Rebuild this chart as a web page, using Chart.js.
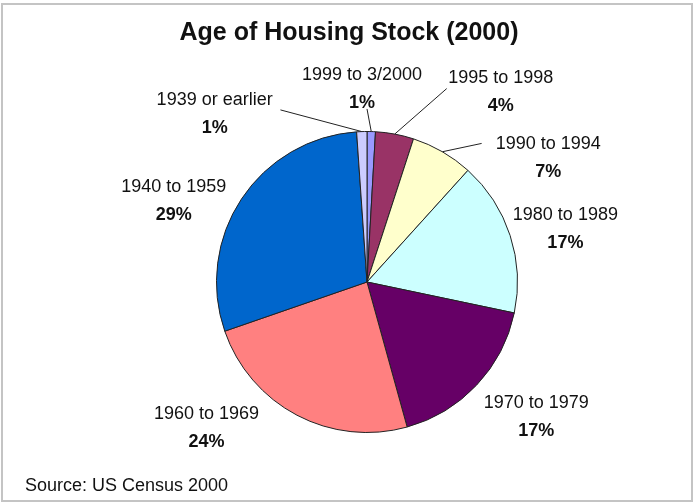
<!DOCTYPE html>
<html>
<head>
<meta charset="utf-8">
<script src="https://cdn.jsdelivr.net/npm/chart.js@4.4.1/dist/chart.umd.min.js"></script>
<style>
  html, body { margin: 0; padding: 0; background: #fff; }
  #wrap { width: 694px; height: 504px; }
</style>
</head>
<body>
<div id="wrap"><canvas id="housing-chart" width="694" height="504"></canvas></div>
<script>
// --- Data ---
const chartTitle = 'Age of Housing Stock (2000)';
const sourceNote = 'Source: US Census 2000';
const categories = ['1999 to 3/2000', '1995 to 1998', '1990 to 1994', '1980 to 1989',
                    '1970 to 1979', '1960 to 1969', '1940 to 1959', '1939 or earlier'];
const shares = [0.9, 4.1, 6.7, 16.6, 17.4, 24.0, 29.2, 1.1];
const sliceColors = ['#9999ff', '#993366', '#ffffcc', '#ccffff',
                     '#660066', '#ff8080', '#0066cc', '#ccccff'];

// label placement: [degrees clockwise from 12 o'clock, distance as multiple of radius]
const labelPlacement = [
    [-1.5, 1.285], [35.1, 1.545], [55.6, 1.46], [75.1, 1.364],
    [128.5, 1.437], [227.7, 1.442], [292.7, 1.392], [317.8, 1.507]
];
// leader line end points for the small slices (same polar form), null = no line
const leaderEnds = [
    [0, 1.15], [22.4, 1.39], [39.6, 1.195], null, null, null, null, [333.3, 1.28]
];

function polar(cx, cy, deg, dist) {
    const a = (deg - 90) * Math.PI / 180;
    return { x: cx + Math.cos(a) * dist, y: cy + Math.sin(a) * dist };
}

const pieDecor = {
    id: 'pieDecor',
    afterDraw(chart) {
        const ctx = chart.ctx;
        const meta = chart.getDatasetMeta(0);
        const values = chart.data.datasets[0].data;
        const total = values.reduce((s, v) => s + v, 0);

        ctx.save();
        // outer frame
        ctx.strokeStyle = '#c4c4c4';
        ctx.lineWidth = 2;
        ctx.strokeRect(2, 4, 690, 497);

        // title
        ctx.fillStyle = '#111';
        ctx.font = 'bold 25px "Liberation Sans", Arial, sans-serif';
        ctx.textAlign = 'center';
        ctx.textBaseline = 'alphabetic';
        ctx.fillText(chartTitle, 349, 40);

        // source
        ctx.font = '18px "Liberation Sans", Arial, sans-serif';
        ctx.textAlign = 'left';
        ctx.fillText(sourceNote, 25, 491);

        meta.data.forEach((arc, i) => {
            const cx = arc.x, cy = arc.y, r = arc.outerRadius;

            // leader lines
            const end = leaderEnds[i];
            if (end) {
                const mid = (arc.startAngle + arc.endAngle) / 2;
                const sx = cx + Math.cos(mid) * r;
                const sy = cy + Math.sin(mid) * r;
                const e = polar(cx, cy, end[0], end[1] * r);
                ctx.strokeStyle = '#222';
                ctx.lineWidth = 1;
                ctx.beginPath();
                ctx.moveTo(sx, sy);
                ctx.lineTo(e.x, e.y);
                ctx.stroke();
            }

            // labels
            const p = polar(cx, cy, labelPlacement[i][0], labelPlacement[i][1] * r);
            ctx.fillStyle = '#111';
            ctx.textAlign = 'center';
            ctx.textBaseline = 'middle';
            ctx.font = '18px "Liberation Sans", Arial, sans-serif';
            ctx.fillText(chart.data.labels[i], p.x, p.y - 14);
            ctx.font = 'bold 18px "Liberation Sans", Arial, sans-serif';
            ctx.fillText(Math.round(values[i] / total * 100) + '%', p.x, p.y + 14);
        });
        ctx.restore();
    }
};

document.addEventListener('DOMContentLoaded', function() {
    const ctx = document.getElementById('housing-chart').getContext('2d');
    new Chart(ctx, {
        type: 'pie',
        data: {
            labels: categories,
            datasets: [{
                data: shares,
                backgroundColor: sliceColors,
                borderColor: '#222',
                borderWidth: 1
            }]
        },
        options: {
            responsive: false,
            animation: false,
            layout: {
                padding: { left: 216, right: 176, top: 131, bottom: 71 }
            },
            plugins: {
                legend: { display: false },
                tooltip: { enabled: false },
                title: { display: false }
            }
        },
        plugins: [pieDecor]
    });
});
</script>
</body>
</html>
